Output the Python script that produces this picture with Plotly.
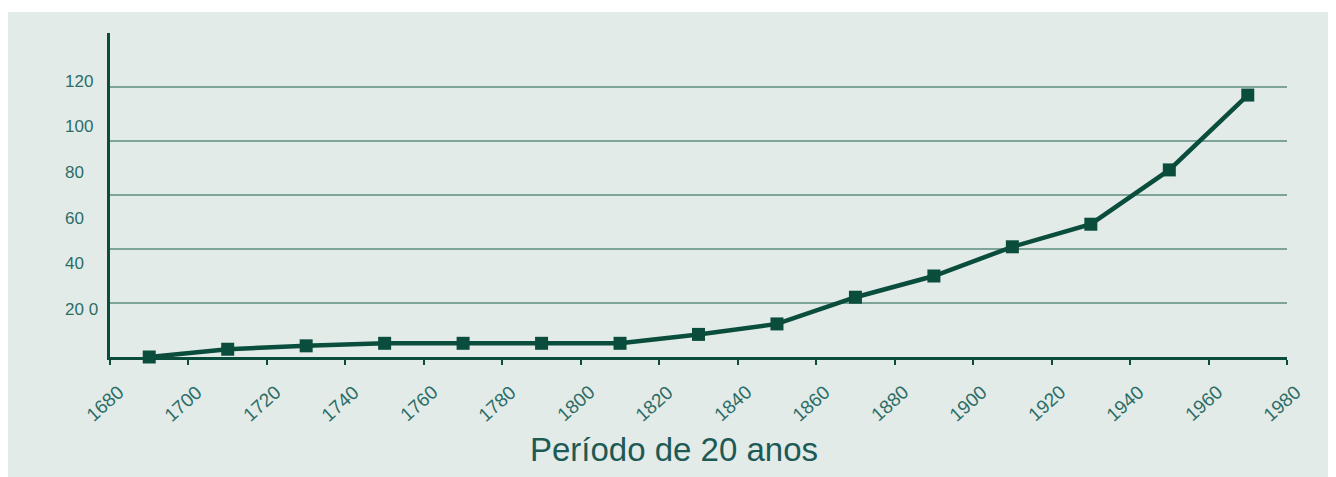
import plotly.graph_objects as go

# Data
years = [1690, 1710, 1730, 1750, 1770, 1790, 1810, 1830, 1850, 1870, 1890, 1910, 1930, 1950, 1970]
values = [0, 3.4, 4.9, 6, 6, 6, 6, 9.9, 14.5, 26.2, 35.5, 48.3, 58.2, 82.0, 114.8]
x_ticks = [1680, 1700, 1720, 1740, 1760, 1780, 1800, 1820, 1840, 1860, 1880, 1900, 1920, 1940, 1960, 1980]
y_tick_vals = [20, 40, 60, 80, 100, 120]
y_tick_text = ["20 0", "40", "60", "80", "100", "120"]
grid_vals = [20, 40, 60, 80, 100, 120]

DARK = "#0a4d3c"
GRID = "#7ea398"
LABEL = "#2c6d67"
BG = "#e3ebe8"
FONT = "Liberation Sans, Arial, sans-serif"

fig = go.Figure()
fig.add_trace(go.Scatter(
    x=years, y=values, mode="lines+markers",
    line=dict(color=DARK, width=4.5),
    marker=dict(symbol="square", size=13, color=DARK),
    showlegend=False, hoverinfo="skip", cliponaxis=False,
))
# invisible trace to activate gridline axis
fig.add_trace(go.Scatter(x=[1680], y=[0], yaxis="y2", mode="markers",
                         marker=dict(opacity=0), showlegend=False, hoverinfo="skip"))

annotations = []
for v, t in zip(y_tick_vals, y_tick_text):
    annotations.append(dict(x=-0.0399, xref="paper", y=v, yref="y", text=t,
                            showarrow=False, xanchor="left", yanchor="middle",
                            yshift=2,
                            font=dict(family=FONT, size=17, color=LABEL)))
for xv in x_ticks:
    annotations.append(dict(x=xv, xref="x", y=-0.144, yref="paper", text=str(xv),
                            showarrow=False, xanchor="center", yanchor="middle",
                            textangle=-42, xshift=-5,
                            font=dict(family=FONT, size=19, color=LABEL)))
annotations.append(dict(x=0.4795, xref="paper", y=-0.284, yref="paper",
                        text="Período de 20 anos", showarrow=False,
                        xanchor="center", yanchor="middle",
                        font=dict(family=FONT, size=33, color="#1d5a55")))

fig.update_layout(
    width=1336, height=469,
    margin=dict(l=102, r=57, t=25, b=120),
    paper_bgcolor="white",
    plot_bgcolor="rgba(0,0,0,0)",
    shapes=[dict(type="rect", xref="paper", yref="paper",
                 x0=-0.0867, x1=1.06, y0=-0.370, y1=1.0648,
                 fillcolor=BG, line=dict(width=0), layer="below")],
    annotations=annotations,
    xaxis=dict(range=[1680, 1980], tickvals=x_ticks, showticklabels=False,
               ticks="outside", ticklen=5, tickwidth=2, tickcolor=DARK,
               showline=True, linecolor=DARK, linewidth=2.5,
               showgrid=False, zeroline=False, fixedrange=True),
    yaxis=dict(range=[0, 142], showticklabels=False, showgrid=False,
               showline=True, linecolor=DARK, linewidth=2.5, zeroline=False,
               ticks=""),
    yaxis2=dict(range=[0, 120], overlaying="y", side="left",
                tickvals=grid_vals, showticklabels=False, showgrid=True,
                gridcolor=GRID, gridwidth=2, showline=False, zeroline=False,
                ticks=""),
)

fig.write_html("out.html")
